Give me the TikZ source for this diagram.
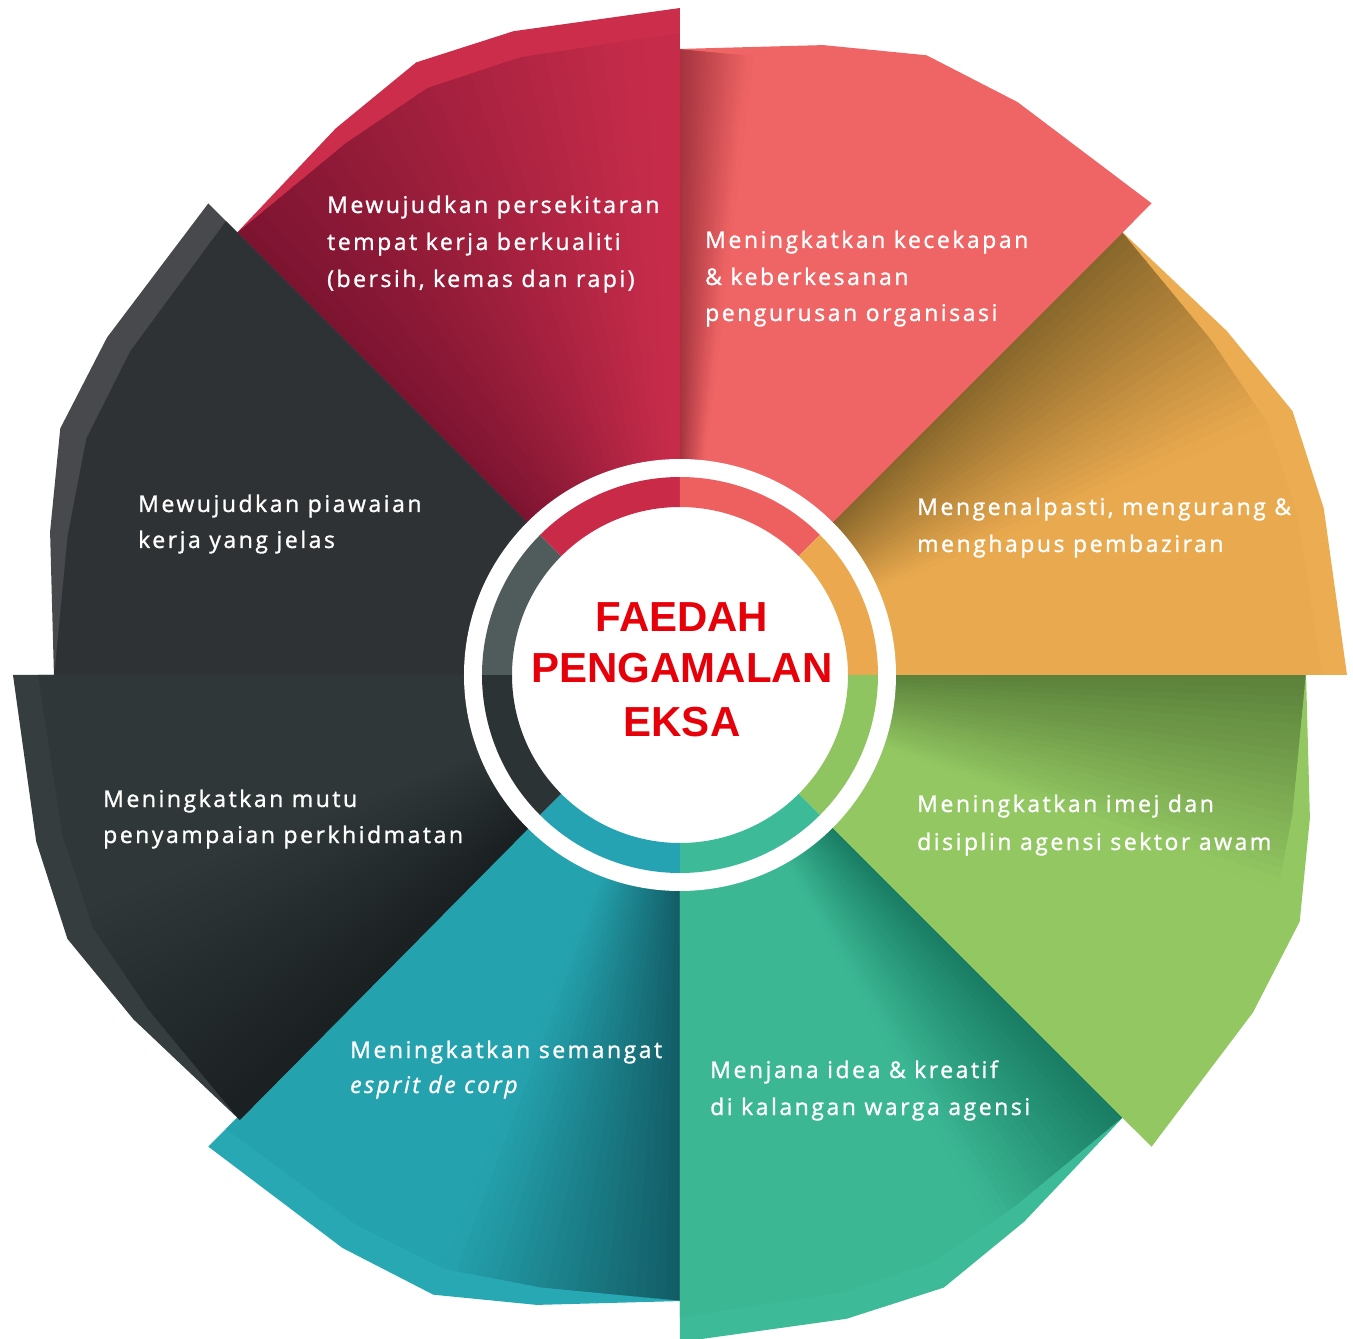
\documentclass[tikz,border=0pt]{standalone}
\usepackage{fontspec}
\setmainfont{Liberation Sans}
\newfontfamily\bladefont[LetterSpace=11,FakeBold=1.2]{Open Sans}
\newfontfamily\centerfont{Liberation Sans}

\definecolor{crimB}{HTML}{C62B4A}\definecolor{crimS}{HTML}{7A1430}\definecolor{crimL}{HTML}{CC2D4B}
\definecolor{coraB}{HTML}{EF6464}\definecolor{coraS}{HTML}{9E2F3C}
\definecolor{oranB}{HTML}{E9A94E}\definecolor{oranS}{HTML}{86652A}\definecolor{oranL}{HTML}{ECAD52}
\definecolor{grenB}{HTML}{92C762}\definecolor{grenS}{HTML}{5A7F3A}
\definecolor{tgrnB}{HTML}{3BB794}\definecolor{tgrnS}{HTML}{177A61}\definecolor{tgrnL}{HTML}{3DBA98}
\definecolor{tealB}{HTML}{24A3AE}\definecolor{tealS}{HTML}{125A63}\definecolor{tealL}{HTML}{27A8B3}
\definecolor{dklB}{HTML}{2F3739}\definecolor{dklS}{HTML}{1A2022}\definecolor{dklL}{HTML}{353D3F}
\definecolor{dkuB}{HTML}{2F3235}\definecolor{dkuL}{HTML}{47494C}
\definecolor{r1}{HTML}{C92A48}\definecolor{r2}{HTML}{EE6060}\definecolor{r3}{HTML}{EBA84F}
\definecolor{r4}{HTML}{8FC560}\definecolor{r5}{HTML}{3DBA98}\definecolor{r6}{HTML}{25A3B2}
\definecolor{r7}{HTML}{2B3335}\definecolor{r8}{HTML}{505C5C}
\definecolor{ctred}{HTML}{E6000A}

\newcommand\bladeouter[1]{(0,0) -- (#1:667) -- ({#1+14.5}:665) -- ({#1+23.3}:667) -- ({#1+32.2}:646) -- ({#1+45.3}:626) -- cycle}
\newcommand\bladeinner[1]{(0,0) -- (#1:642) -- ({#1+14.5}:638) -- ({#1+23.3}:639) -- ({#1+32.2}:628) -- ({#1+45.3}:626) -- cycle}
% #1 start angle, #2 base, #3 shadow, #4 shadow width (deg), #5 band colour
\newcommand\blade[5]{%
  \fill[#5] \bladeouter{#1};
  \fill[#2] \bladeinner{#1};
  \begin{scope}
    \clip \bladeinner{#1};
    \foreach \i in {0,...,23}{%
      \pgfmathsetmacro\pa{#1+45.5-\i*#4/24}%
      \pgfmathsetmacro\pb{#1+45.5-(\i+1)*#4/24-0.3}%
      \pgfmathsetmacro\pc{100*(1-(\i+0.5)/24)}%
      \fill[#3!\pc!#2] (0,0) -- (\pa:900) -- (\pb:900) -- cycle;
    }
  \end{scope}}
\newcommand\ringseg[2]{%
  \fill[#2] (#1:198) arc[start angle=#1, end angle={#1+45}, radius=198]
    -- ({#1+45}:168) arc[start angle={#1+45}, end angle=#1, radius=168] -- cycle;}

\tikzset{
  bladetext/.style={font=\bladefont\fontsize{23}{30}\selectfont, text=white, inner sep=0pt, anchor=base west},
  centertext/.style={font=\centerfont\bfseries\fontsize{42}{50}\selectfont, text=ctred, inner sep=0pt, anchor=base}
}

\begin{document}
\begin{tikzpicture}[x=1pt,y=1pt]
\useasboundingbox[fill=white] (-680,-664) rectangle (673,675);

% blades
\blade{-135}{tealB}{tealS}{22}{tealL}
\blade{-90}{tgrnB}{tgrnS}{16}{tgrnL}
\blade{-45}{grenB}{grenS}{20}{grenB}
\blade{0}{oranB}{oranS}{22}{oranL}
\blade{45}{coraB}{coraS}{7}{coraB}
\blade{90}{crimB}{crimS}{42}{crimL}
\blade{135}{dkuB}{dkuB}{1}{dkuL}
\blade{180}{dklB}{dklS}{25}{dklL}

% centre
\fill[white] (0,0) circle (216);
\ringseg{90}{r1}
\ringseg{45}{r2}
\ringseg{0}{r3}
\ringseg{-45}{r4}
\ringseg{-90}{r5}
\ringseg{-135}{r6}
\ringseg{180}{r7}
\ringseg{135}{r8}

\node[centertext] (c1) at (2,43) {FAEDAH};
\node[centertext] (c2) at (2,-8) {PENGAMALAN};
\node[centertext] (c3) at (2,-62) {EKSA};

% blade texts
\node[bladetext] (t1a) at (-353,462) {Mewujudkan persekitaran};
\node[bladetext] (t1b) at (-353,425) {tempat kerja berkualiti};
\node[bladetext] (t1c) at (-353,388) {(bersih, kemas dan rapi)};

\node[bladetext] (t2a) at (25,427) {Meningkatkan kecekapan};
\node[bladetext] (t2b) at (25,390) {\& keberkesanan};
\node[bladetext] (t2c) at (25,354) {pengurusan organisasi};

\node[bladetext] (t3a) at (237,160) {Mengenalpasti, mengurang \&};
\node[bladetext] (t3b) at (237,123) {menghapus pembaziran};

\node[bladetext] (t4a) at (237,-137) {Meningkatkan imej dan};
\node[bladetext] (t4b) at (237,-175) {disiplin agensi sektor awam};

\node[bladetext] (t5a) at (30,-403) {Menjana idea \& kreatif};
\node[bladetext] (t5b) at (30,-440) {di kalangan warga agensi};

\node[bladetext] (t6a) at (-330,-383) {Meningkatkan semangat};
\node[bladetext] (t6b) at (-330,-418) {\itshape esprit de corp};

\node[bladetext] (t7a) at (-577,-132) {Meningkatkan mutu};
\node[bladetext] (t7b) at (-577,-168) {penyampaian perkhidmatan};

\node[bladetext] (t8a) at (-542,163) {Mewujudkan piawaian};
\node[bladetext] (t8b) at (-542,127) {kerja yang jelas};
\end{tikzpicture}
\end{document}
